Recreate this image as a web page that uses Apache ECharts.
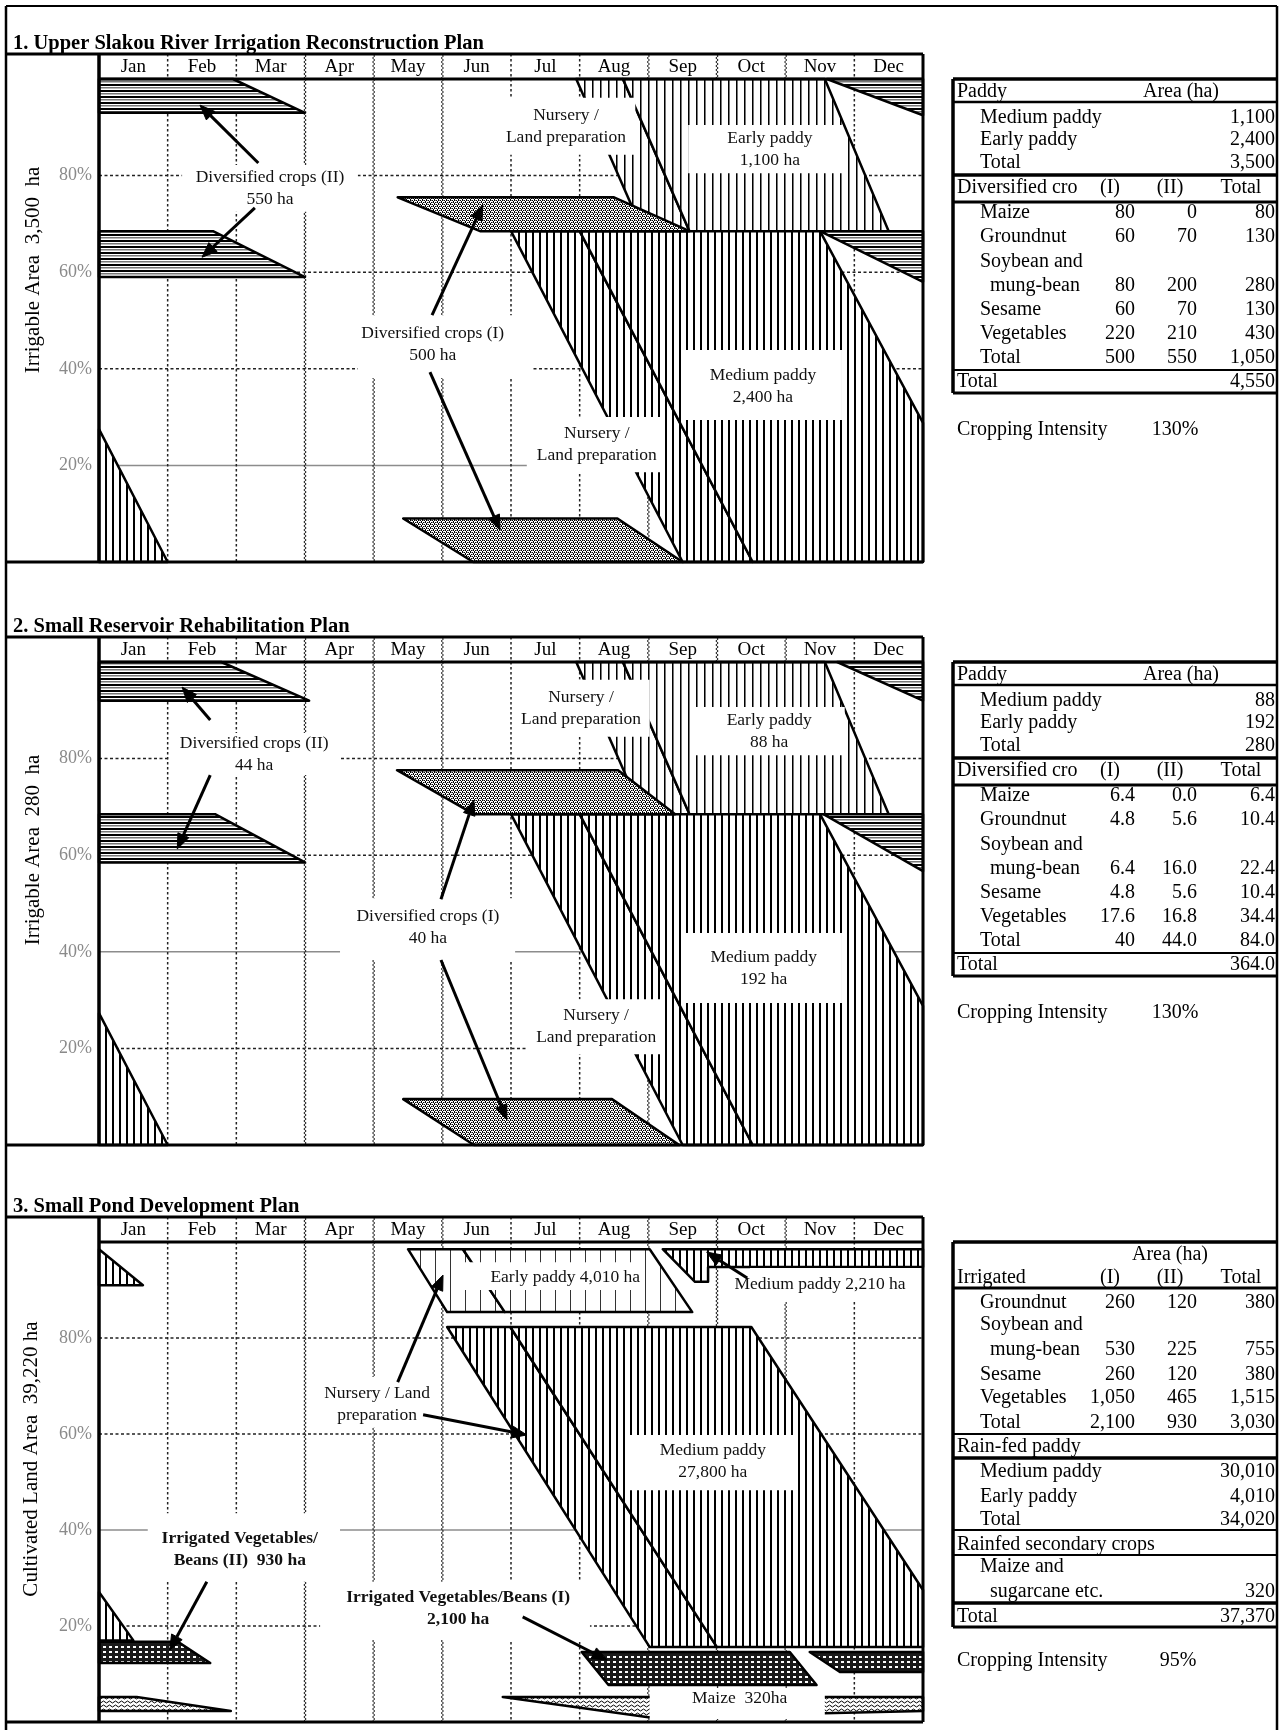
<!DOCTYPE html>
<html><head><meta charset="utf-8">
<script src="https://cdn.jsdelivr.net/npm/echarts@6/dist/echarts.min.js"></script>
<style>html,body{margin:0;padding:0;background:#fff}#c{width:1281px;height:1730px}</style>
</head><body><div id="c"></div>
<script>
// ================= DATA =================
const MONTHS = ['Jan','Feb','Mar','Apr','May','Jun','Jul','Aug','Sep','Oct','Nov','Dec'];
const Y_TICKS = [20, 40, 60, 80];

// x = month position (0 = 1 Jan, 12 = 31 Dec), y = % of area
// ---- Panel 1 ----
const p1EarlyPaddy = [
  [[6.95,100],[7.63,100],[8.60,68.5],[7.92,68.5]],
  [[7.63,100],[10.57,100],[11.50,68.5],[8.60,68.5]]
];
const p1MediumPaddy = [
  [[6.00,68.5],[7.00,68.5],[9.52,0],[8.50,0]],
  [[7.00,68.5],[10.50,68.5],[12,28.8],[12,0],[9.52,0]],
  [[0,27.5],[1.00,0],[0,0]]
];
const p1DivII = [
  [[0,100],[1.95,100],[3.00,93],[0,93]],
  [[10.60,100],[12,100],[12,92.5]],
  [[0,68.5],[1.66,68.5],[3.00,59],[0,59]],
  [[10.50,68.5],[12,68.5],[12,58]]
];
const p1DivI = [
  [[4.35,75.5],[7.50,75.5],[8.60,68.5],[5.55,68.5]],
  [[4.43,9],[7.55,9],[8.50,0],[5.45,0]]
];
const p1Labels = [
  {text:'Diversified crops (II)\n550 ha', at:[2.49,77.4], box:[1.21,82.2,3.77,72.5]},
  {text:'Nursery /\nLand preparation', at:[6.80,90.1], box:[5.91,96.1,7.81,84.3]},
  {text:'Early paddy\n1,100 ha', at:[9.77,85.5], box:[8.58,90.5,10.83,80.5]},
  {text:'Diversified crops (I)\n500 ha', at:[4.86,45.1], box:[3.77,51.1,6.31,38.1]},
  {text:'Medium paddy\n2,400 ha', at:[9.67,36.4], box:[8.50,43.9,10.82,29.4]},
  {text:'Nursery /\nLand preparation', at:[7.25,24.4], box:[6.23,30.0,8.17,18.6]}
];
const p1Arrows = [
  [[2.32,82.6],[1.47,94.6]], [[2.27,73.3],[1.50,63.1]],
  [[4.85,51.1],[5.59,73.9]], [[4.82,39.3],[5.84,6.6]]
];

// ---- Panel 2 ----
const p2EarlyPaddy = [
  [[6.95,100],[7.63,100],[8.60,68.5],[7.92,68.5]],
  [[7.63,100],[10.57,100],[11.50,68.5],[8.60,68.5]]
];
const p2MediumPaddy = [
  [[6.00,68.5],[7.00,68.5],[9.52,0],[8.50,0]],
  [[7.00,68.5],[10.50,68.5],[12,28.8],[12,0],[9.52,0]],
  [[0,27.3],[1.00,0],[0,0]]
];
const p2DivII = [
  [[0,100],[1.78,100],[3.06,92],[0,92]],
  [[10.75,100],[12,100],[12,92]],
  [[0,68.5],[1.69,68.5],[3.00,58.5],[0,58.5]],
  [[10.55,68.5],[12,68.5],[12,56.7]]
];
const p2DivI = [
  [[4.34,77.6],[7.56,77.6],[8.39,68.5],[5.46,68.5]],
  [[4.43,9.5],[7.47,9.5],[8.45,0],[5.46,0]]
];
const p2Labels = [
  {text:'Diversified crops (II)\n44 ha', at:[2.26,80.8], box:[1.03,85.3,3.51,76.6]},
  {text:'Nursery /\nLand preparation', at:[7.02,90.3], box:[6.06,96.3,8.02,84.5]},
  {text:'Early paddy\n88 ha', at:[9.76,85.7], box:[8.61,90.7,10.86,80.7]},
  {text:'Diversified crops (I)\n40 ha', at:[4.79,45.1], box:[3.51,51.1,6.06,38.3]},
  {text:'Medium paddy\n192 ha', at:[9.68,36.6], box:[8.50,43.9,10.82,29.4]},
  {text:'Nursery /\nLand preparation', at:[7.24,24.6], box:[6.23,30.2,8.17,18.8]}
];
const p2Arrows = [
  [[1.62,88.0],[1.21,94.8]], [[1.62,76.6],[1.14,61.3]],
  [[4.98,50.9],[5.46,71.4]], [[4.98,38.3],[5.94,5.2]]
];

// ---- Panel 3 ----
const p3EarlyPaddy = [
  [[4.50,98.5],[5.30,98.5],[5.91,85.4],[5.07,85.4]],
  [[5.30,98.5],[8.02,98.5],[8.64,85.4],[5.91,85.4]]
];
const p3MediumPaddyTop = [
  [[8.21,98.5],[12,98.5],[12,94.8],[8.87,94.8],[8.87,91.7],[8.68,91.7]],
  [[0,98.5],[0.64,91.0],[0,91.0]]
];
const p3MediumPaddy = [
  [[5.07,82.3],[5.99,82.3],[9.00,15.6],[8.02,15.6]],
  [[5.99,82.3],[9.50,82.3],[12,27.5],[12,15.6],[9.00,15.6]],
  [[0,27.1],[0.50,17.0],[0,17.0]]
];
const p3VegII = [
  [[0,16.7],[1.15,16.7],[1.62,12.3],[0,12.3]],
  [[10.35,14.6],[12,14.6],[12,10.4],[10.79,10.4]]
];
const p3VegI = [
  [[7.03,14.6],[10.06,14.6],[10.45,7.7],[7.42,7.7]]
];
const p3Maize = [
  [[0,5.2],[0.55,5.2],[1.92,2.3],[0,2.3]],
  [[5.88,5.2],[12,5.2],[12,2.3],[8.00,1.0]]
];
const p3Labels = [
  {text:'Early paddy 4,010 ha', at:[6.79,92.7], box:[5.26,95.8,7.95,90.0]},
  {text:'Medium paddy 2,210 ha', at:[10.50,91.25], box:[9.48,94.6,12.0,87.5]},
  {text:'Nursery / Land\npreparation', at:[4.05,66.25], box:[3.19,71.9,4.92,61.3]},
  {text:'Medium paddy\n27,800 ha', at:[8.94,54.2], box:[7.69,59.8,10.16,48.3]},
  {text:'Irrigated Vegetables/\nBeans (II)  930 ha', at:[2.05,36.0], box:[0.71,43.5,3.51,29.2], bold:true},
  {text:'Irrigated Vegetables/Beans (I)\n2,100 ha', at:[5.23,23.6], box:[3.22,29.2,7.15,17.1], bold:true},
  {text:'Maize  320ha', at:[9.33,5.0], box:[8.02,7.1,10.57,0.6]}
];
const p3Arrows = [
  [[4.35,70.8],[5.01,93.1]], [[4.72,64.0],[6.23,59.8]], [[9.44,92.5],[8.85,97.9]],
  [[1.57,29.2],[1.03,15.0]], [[6.17,21.9],[7.40,12.9]]
];

// ---- Tables ----
const t1Paddy = [['Medium paddy','1,100'],['Early paddy','2,400'],['Total','3,500']];
const t1Div = [['Maize','80','0','80'],['Groundnut','60','70','130'],['Soybean and','','',''],['mung-bean','80','200','280'],['Sesame','60','70','130'],['Vegetables','220','210','430'],['Total','500','550','1,050']];
const t1Total = '4,550', t1CI = '130%';
const t2Paddy = [['Medium paddy','88'],['Early paddy','192'],['Total','280']];
const t2Div = [['Maize','6.4','0.0','6.4'],['Groundnut','4.8','5.6','10.4'],['Soybean and','','',''],['mung-bean','6.4','16.0','22.4'],['Sesame','4.8','5.6','10.4'],['Vegetables','17.6','16.8','34.4'],['Total','40','44.0','84.0']];
const t2Total = '364.0', t2CI = '130%';
const divHeader = ['Diversified cro','(I)','(II)','Total'];
const t3Irrigated = [['Groundnut','260','120','380'],['Soybean and','','',''],['mung-bean','530','225','755'],['Sesame','260','120','380'],['Vegetables','1,050','465','1,515'],['Total','2,100','930','3,030']];
const t3RainPaddy = [['Medium paddy','30,010'],['Early paddy','4,010'],['Total','34,020']];
const t3Secondary = [['Maize and',''],['sugarcane etc.','320']];
const t3Total = '37,370', t3CI = '95%';

// ================= STYLE / LAYOUT =================
const FONT = 'Liberation Serif';
function mkPat(w,h,draw){const c=document.createElement('canvas');c.width=w;c.height=h;const g=c.getContext('2d');g.fillStyle='#fff';g.fillRect(0,0,w,h);draw(g);return {image:c,repeat:'repeat'};}
const PAT = {
  medium: mkPat(7,4,g=>{g.fillStyle='#000';g.fillRect(0,0,2,4);}),
  early: mkPat(8,4,g=>{g.fillStyle='#000';g.fillRect(0,0,1,4);g.fillStyle='#777';g.fillRect(1,0,1,4);}),
  sparse: mkPat(15,4,g=>{g.fillStyle='#333';g.fillRect(0,0,1,4);}),
  hstripe: mkPat(4,6,g=>{g.fillStyle='#000';g.fillRect(0,0,4,2);g.fillStyle='#777';g.fillRect(0,3,4,1.5);}),
  dots: mkPat(4,4,g=>{g.fillStyle='#000';[[0,0],[2,0],[1,1],[3,2],[1,2],[2,3]].forEach(p=>g.fillRect(p[0],p[1],1,1));g.fillStyle='#888';[[3,0],[0,2]].forEach(p=>g.fillRect(p[0],p[1],1,1));}),
  dense: mkPat(6,5,g=>{g.fillStyle='#1a1a1a';g.fillRect(0,0,6,5);g.fillStyle='#fff';g.fillRect(1,1,3,2);}),
  wave: mkPat(6,4,g=>{g.strokeStyle='#000';g.lineWidth=1;g.beginPath();g.moveTo(0,2);g.quadraticCurveTo(1.5,0,3,2);g.quadraticCurveTo(4.5,4,6,2);g.stroke();})
};
const V_STYLES = ['dot','dot','wave','wave','wave','dot','dot','wave','wave','wave','dot'];
const tag = (arr, pat) => arr.map(p => ({pts:p, pat}));

const panels = [
  {top:79, height:483, title:'1. Upper Slakou River Irrigation Reconstruction Plan', yName:'Irrigable Area  3,500  ha', yNameAt:[33,270],
   hStyles:{20:'solid',40:'dot',60:'dot',80:'dot'},
   polys:[...tag(p1EarlyPaddy,'early'),...tag(p1MediumPaddy,'medium'),...tag(p1DivII,'hstripe'),...tag(p1DivI,'dots')],
   labels:p1Labels, arrows:p1Arrows},
  {top:662, height:483, title:'2. Small Reservoir Rehabilitation Plan', yName:'Irrigable Area  280  ha', yNameAt:[33,850],
   hStyles:{20:'dot',40:'solid',60:'dot',80:'dot'},
   polys:[...tag(p2EarlyPaddy,'early'),...tag(p2MediumPaddy,'medium'),...tag(p2DivII,'hstripe'),...tag(p2DivI,'dots')],
   labels:p2Labels, arrows:p2Arrows},
  {top:1242, height:480, title:'3. Small Pond Development Plan', yName:'Cultivated Land Area  39,220 ha', yNameAt:[31,1459],
   hStyles:{20:'dot',40:'solid',60:'dot',80:'dot'},
   polys:[...tag(p3EarlyPaddy,'sparse'),...tag(p3MediumPaddyTop,'medium'),...tag(p3MediumPaddy,'medium'),...tag(p3VegII,'dense'),...tag(p3VegI,'dense'),...tag(p3Maize,'wave')],
   labels:p3Labels, arrows:p3Arrows}
];

const grid=[], xAxis=[], yAxis=[], series=[], graphics=[];
const L = 99, R = 923;

panels.forEach((P, g) => {
  grid.push({left:L, top:P.top, width:R-L, height:P.height});
  xAxis.push({type:'value', gridIndex:g, min:0, max:12, interval:1, show:false});
  xAxis.push({type:'category', gridIndex:g, position:'top', data:MONTHS, boundaryGap:true,
    axisLine:{show:false}, axisTick:{show:false}, splitLine:{show:false},
    axisLabel:{margin:12, fontSize:19, fontFamily:FONT, color:'#000', verticalAlign:'middle'}});
  yAxis.push({type:'value', gridIndex:g, min:0, max:100, interval:20,
    axisLine:{show:false}, axisTick:{show:false}, splitLine:{show:false},
    axisLabel:{margin:7, fontSize:18, fontFamily:FONT, color:'#8a8a8a', formatter:v=> (v>0&&v<100)? v+'%':''}});

  // grid lines
  const gl = [];
  Y_TICKS.forEach(v => gl.push({kind:'h', v, style:P.hStyles[v]}));
  V_STYLES.forEach((s,i) => gl.push({kind:'v', v:i+1, style:s}));
  series.push({type:'custom', xAxisIndex:2*g, yAxisIndex:g, z:1, silent:true, clip:false,
    data: gl.map(it => it.kind==='h' ? [0,it.v] : [it.v,0]),
    renderItem:(params, api) => {
      const it = gl[params.dataIndex];
      if (it.kind==='h'){
        const a=api.coord([0,it.v]), b=api.coord([12,it.v]);
        const st = it.style==='solid' ? {stroke:'#8c8c8c', lineWidth:1.5, fill:'none'} : {stroke:'#222', lineWidth:1.5, lineDash:[3,2.5], fill:'none'};
        return {type:'line', shape:{x1:a[0],y1:a[1],x2:b[0],y2:b[1]}, style:st};
      }
      const a=api.coord([it.v,100]), b=api.coord([it.v,0]);
      const y0=a[1]-25, y1=b[1];
      if (it.style==='wave'){
        const pts=[]; let i=0;
        for(let y=y0;y<=y1;y+=2,i++) pts.push([a[0]+(i%2?1.2:-1.2), y]);
        return {type:'polyline', shape:{points:pts}, style:{stroke:'#222', lineWidth:1, fill:'none'}};
      }
      return {type:'line', shape:{x1:a[0],y1:y0,x2:a[0],y2:y1}, style:{stroke:'#222', lineWidth:1.5, lineDash:[2.5,2.5], fill:'none'}};
    }});

  // crop polygons
  series.push({type:'custom', xAxisIndex:2*g, yAxisIndex:g, z:3, silent:true, clip:false,
    data: P.polys.map(it => it.pts[0]),
    renderItem:(params, api) => {
      const it = P.polys[params.dataIndex];
      return {type:'polygon', shape:{points: it.pts.map(p => api.coord(p))},
        style:{fill:PAT[it.pat], stroke:'#000', lineWidth:2.5, lineJoin:'round'}};
    }});

  // labels
  series.push({type:'custom', xAxisIndex:2*g, yAxisIndex:g, z:5, silent:true, clip:false,
    data: P.labels.map(l => l.at),
    renderItem:(params, api) => {
      const l = P.labels[params.dataIndex];
      const p0 = api.coord([l.box[0], l.box[1]]), p1 = api.coord([l.box[2], l.box[3]]);
      const c = api.coord(l.at);
      return {type:'group', children:[
        {type:'rect', shape:{x:p0[0], y:p0[1], width:p1[0]-p0[0], height:p1[1]-p0[1]}, style:{fill:'#fff', stroke:'none'}},
        {type:'text', x:c[0], y:c[1], style:{text:l.text, fill:'#111', font:(l.bold?'bold ':'')+'17.5px "Liberation Serif"', textAlign:'center', textVerticalAlign:'middle', lineHeight:22}}
      ]};
    }});

  // arrows
  series.push({type:'custom', xAxisIndex:2*g, yAxisIndex:g, z:6, silent:true, clip:false,
    data: P.arrows.map(a => a[1]),
    renderItem:(params, api) => {
      const A = P.arrows[params.dataIndex];
      const a=api.coord(A[0]), b=api.coord(A[1]);
      const dx=b[0]-a[0], dy=b[1]-a[1], len=Math.hypot(dx,dy), ux=dx/len, uy=dy/len;
      const hl=15, hw=6, bx=b[0]-ux*hl, by=b[1]-uy*hl;
      return {type:'group', children:[
        {type:'line', shape:{x1:a[0],y1:a[1],x2:bx,y2:by}, style:{stroke:'#000', lineWidth:3, fill:'none'}},
        {type:'polygon', shape:{points:[[b[0],b[1]],[bx-uy*hw,by+ux*hw],[bx+uy*hw,by-ux*hw]]}, style:{fill:'#000', stroke:'#000', lineWidth:1}}
      ]};
    }});

  // frame
  const H = P.top-25, B = P.top+P.height;
  const ln = (x1,y1,x2,y2,w) => ({type:'line', z:100, silent:true, shape:{x1,y1,x2,y2}, style:{stroke:'#000', lineWidth:w}});
  graphics.push(ln(6,H,R,H,3), ln(L,H,L,B,3.5), ln(R,H,R,B,3), ln(L,P.top,R,P.top,3), ln(6,B,R,B,3));
  graphics.push({type:'text', z:100, x:13, y:H-10, style:{text:P.title, font:'bold 20.5px "Liberation Serif"', fill:'#000', textAlign:'left', textVerticalAlign:'middle'}});
  graphics.push({type:'text', z:100, x:P.yNameAt[0], y:P.yNameAt[1], rotation:Math.PI/2, style:{text:P.yName, font:'21px "Liberation Serif"', fill:'#000', textAlign:'center', textVerticalAlign:'middle'}});
});

// outer frame
graphics.push({type:'line', z:100, shape:{x1:6,y1:6,x2:1277,y2:6}, style:{stroke:'#000', lineWidth:2}});
graphics.push({type:'line', z:100, shape:{x1:6,y1:6,x2:6,y2:1730}, style:{stroke:'#000', lineWidth:2.5}});
graphics.push({type:'line', z:100, shape:{x1:1277,y1:6,x2:1277,y2:1730}, style:{stroke:'#000', lineWidth:2.5}});

// ---- tables ----
const TX0 = 953, TX1 = 1277;
const T = (x,y,text,align) => ({type:'text', z:50, x, y, style:{text, font:'20px "Liberation Serif"', fill:'#000', textAlign:align||'left', textVerticalAlign:'middle'}});
const HL = (y,w) => ({type:'line', z:50, shape:{x1:TX0,y1:y,x2:TX1,y2:y}, style:{stroke:'#000', lineWidth:w}});
const VL = (y0,y1) => ({type:'line', z:50, shape:{x1:TX0,y1:y0,x2:TX0,y2:y1}, style:{stroke:'#000', lineWidth:3.5}});
const COLS = [1135,1197,1275];
const nameX = n => n.startsWith('mung') || n.startsWith('sugar') ? 990 : 980;

function paddyTable(top, paddy, div, total, ci){
  [[0,3.5],[23,2.5],[96,3.5],[123,3],[291,2],[314,3]].forEach(([dy,w]) => graphics.push(HL(top+dy,w)));
  graphics.push(VL(top, top+314));
  graphics.push(T(957, top+13, 'Paddy'), T(1181, top+13, 'Area (ha)', 'center'));
  paddy.forEach((r,i) => { const y = top+[39,61,84][i]; graphics.push(T(980,y,r[0]), T(1275,y,r[1],'right')); });
  graphics.push(T(957, top+109, divHeader[0]), T(1110, top+109, divHeader[1], 'center'), T(1170, top+109, divHeader[2], 'center'), T(1241, top+109, divHeader[3], 'center'));
  div.forEach((r,i) => { const y = top+134+i*24.2; graphics.push(T(nameX(r[0]), y, r[0])); r.slice(1).forEach((v,j) => graphics.push(T(COLS[j], y, v, 'right'))); });
  graphics.push(T(957, top+303, 'Total'), T(1275, top+303, total, 'right'));
  graphics.push(T(957, top+351, 'Cropping Intensity'), T(1175, top+351, ci, 'center'));
}
paddyTable(79, t1Paddy, t1Div, t1Total, t1CI);
paddyTable(662, t2Paddy, t2Div, t2Total, t2CI);

(function(){
  const top = 1242;
  [[0,3.5],[46,3],[192,2],[216,3.5],[288,2],[313,2],[361,3.5],[385,3]].forEach(([dy,w]) => graphics.push(HL(top+dy,w)));
  graphics.push(VL(top, top+385));
  graphics.push(T(1170, top+13, 'Area (ha)', 'center'));
  graphics.push(T(957, top+36, 'Irrigated'), T(1110, top+36, '(I)', 'center'), T(1170, top+36, '(II)', 'center'), T(1241, top+36, 'Total', 'center'));
  const iy = [61,83,108,133,156,181];
  t3Irrigated.forEach((r,i) => { const y = top+iy[i]; graphics.push(T(nameX(r[0]), y, r[0])); r.slice(1).forEach((v,j) => graphics.push(T(COLS[j], y, v, 'right'))); });
  graphics.push(T(957, top+205, 'Rain-fed paddy'));
  t3RainPaddy.forEach((r,i) => { const y = top+[230,255,278][i]; graphics.push(T(980,y,r[0]), T(1275,y,r[1],'right')); });
  graphics.push(T(957, top+303, 'Rainfed secondary crops'));
  t3Secondary.forEach((r,i) => { const y = top+[325,350][i]; graphics.push(T(nameX(r[0]),y,r[0]), T(1275,y,r[1],'right')); });
  graphics.push(T(957, top+375, 'Total'), T(1275, top+375, t3Total, 'right'));
  graphics.push(T(957, top+419, 'Cropping Intensity'), T(1178, top+419, t3CI, 'center'));
})();

const chart = echarts.init(document.getElementById('c'), null, {renderer:'canvas'});
chart.setOption({
  animation:false, backgroundColor:'#fff',
  grid, xAxis, yAxis, series,
  graphic:{elements:graphics}
});
</script></body></html>
